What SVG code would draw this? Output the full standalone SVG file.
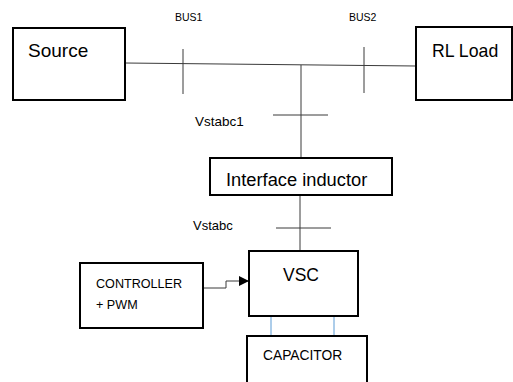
<svg xmlns="http://www.w3.org/2000/svg" width="513" height="382" viewBox="0 0 513 382">
<defs>
<style>
.box{fill:#fff;stroke:#000;stroke-width:2}
.ln{stroke:#3a3a3a;stroke-width:1;fill:none}
.bl{stroke:#5b9bd5;stroke-width:1;fill:none}
text{font-family:"Liberation Sans",Arial,sans-serif;fill:#000}
</style>
<marker id="arr" markerWidth="10" markerHeight="10" refX="10" refY="5" orient="auto" markerUnits="userSpaceOnUse">
<path d="M0,0 L10,5 L0,10 Z" fill="#000"/>
</marker>
</defs>
<rect width="513" height="382" fill="#fff"/>
<g id="connectors">
<line class="ln" x1="125" y1="63" x2="416" y2="66"/>
<line class="ln" x1="183" y1="49" x2="183" y2="94"/>
<line class="ln" x1="364" y1="47" x2="364" y2="93"/>
<line class="ln" x1="301" y1="65" x2="301" y2="158"/>
<line class="ln" x1="273" y1="115" x2="328" y2="115"/>
<line class="ln" x1="300" y1="195" x2="300" y2="251"/>
<line class="ln" x1="276" y1="228" x2="331" y2="228"/>
<line class="bl" x1="271" y1="317" x2="271" y2="335"/>
<line class="bl" x1="334" y1="317" x2="334" y2="335"/>
<polyline class="ln" points="203,288 226,288 226,281 249,281" marker-end="url(#arr)"/>
</g>
<g id="labels">
<text x="175" y="21" font-size="10.5">BUS1</text>
<text x="349" y="21" font-size="10.5">BUS2</text>
<text x="195" y="126" font-size="13.5">Vstabc1</text>
<text x="193" y="230" font-size="13">Vstabc</text>
</g>
<g id="source">
<rect class="box" x="13" y="28" width="112" height="72"/>
<text x="28" y="57" font-size="19">Source</text>
</g>
<g id="rl-load">
<rect class="box" x="416" y="27" width="96" height="73"/>
<text x="432" y="57" font-size="17.7">RL Load</text>
</g>
<g id="interface-inductor">
<rect class="box" x="210" y="158" width="182" height="37"/>
<text x="226" y="186" font-size="18.3">Interface inductor</text>
</g>
<g id="vsc">
<rect class="box" x="249" y="251" width="109" height="65"/>
<text x="283" y="281" font-size="17.5">VSC</text>
</g>
<g id="controller">
<rect class="box" x="80" y="263" width="123" height="65"/>
<text x="96" y="288" font-size="12.6">CONTROLLER</text>
<text x="96" y="309" font-size="12.6">+ PWM</text>
</g>
<g id="capacitor">
<rect class="box" x="247" y="336" width="120" height="50"/>
<text x="263" y="360" font-size="13.8">CAPACITOR</text>
</g>
</svg>
